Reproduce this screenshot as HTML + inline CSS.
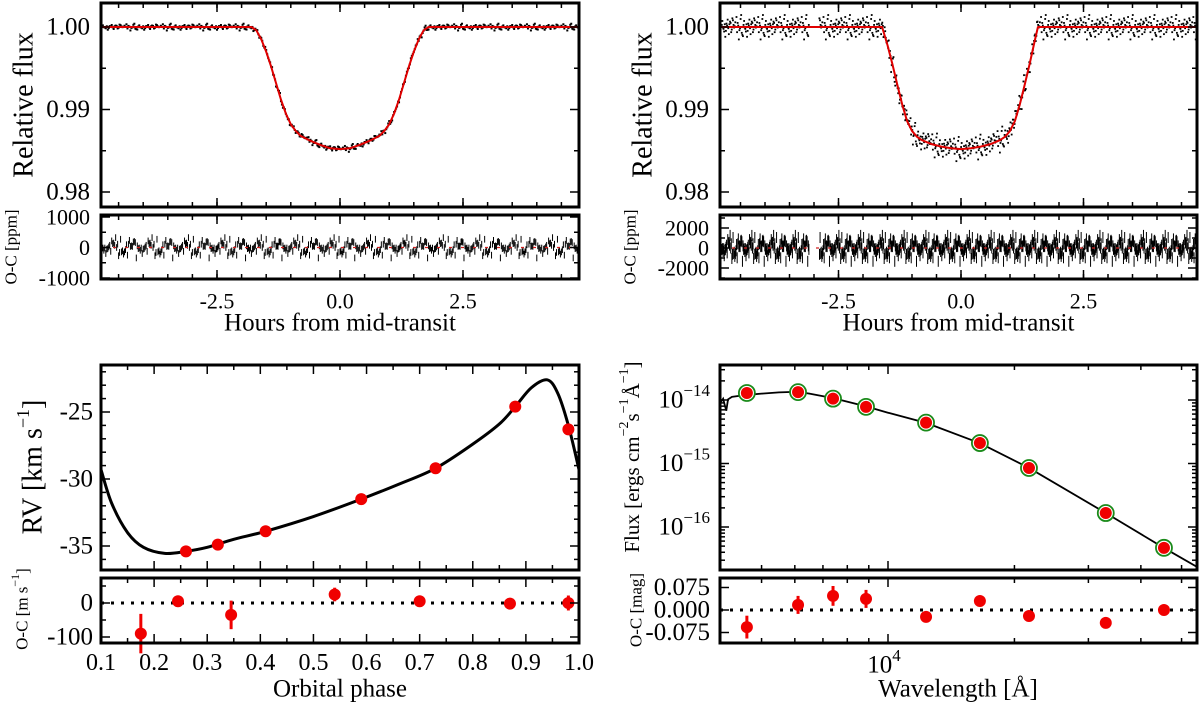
<!DOCTYPE html>
<html>
<head>
<meta charset="utf-8">
<style>
html,body{margin:0;padding:0;background:#fff;}
svg{display:block;font-family:"Liberation Serif","DejaVu Serif",serif;}
svg text{font-family:"Liberation Serif","DejaVu Serif",serif;fill:#000;}
</style>
</head>
<body>
<svg id="fig" width="1200" height="707" viewBox="0 0 1200 707" font-family="Liberation Serif, DejaVu Serif, serif" xmlns="http://www.w3.org/2000/svg"></svg>
<script>
// ---------------- DATA ----------------
// Panel 1 transit model (hours, relative flux)
const lc1ModelT = [-4.86,-1.8,-1.7,-1.6,-1.5,-1.4,-1.3,-1.2,-1.1,-1.0,-0.9,-0.8,-0.6,-0.4,-0.2,0,0.2,0.4,0.6,0.8,0.9,1.0,1.1,1.2,1.3,1.4,1.5,1.6,1.7,1.8,4.86];
const lc1ModelF = [1.0,1.0,0.9996,0.9985,0.9970,0.9952,0.9932,0.9912,0.9895,0.9882,0.9874,0.9868,0.9862,0.9857,0.9853,0.9852,0.9853,0.9857,0.9862,0.9868,0.9874,0.9882,0.9895,0.9912,0.9932,0.9952,0.9970,0.9985,0.9996,1.0,1.0];
// Panel 2 transit model
const lc2ModelT = [-4.9,-1.61,-1.5,-1.4,-1.3,-1.2,-1.1,-1.0,-0.9,-0.8,-0.6,-0.4,-0.2,0,0.2,0.4,0.6,0.8,0.9,1.0,1.1,1.2,1.3,1.4,1.5,1.57,4.82];
const lc2ModelF = [1.0,1.0,0.9978,0.9955,0.9930,0.9906,0.9886,0.9874,0.9867,0.9863,0.9858,0.9855,0.9853,0.9852,0.9853,0.9855,0.9858,0.9863,0.9867,0.9874,0.9886,0.9906,0.9930,0.9955,0.9982,1.0,1.0];
// Noise pattern (units of sigma)
const noisePattern = [0.3,-0.8,1.2,-0.2,0.6,-1.5,0.1,0.9,-0.4,1.8,-1.1,0.2,-0.6,0.7,-0.1,1.3,-0.9,0.4,-1.9,0.5,0.0,-0.3,1.0,-1.2,0.8,-0.5,0.2,1.5,-0.7,0.3,-1.4,0.6,-0.2,1.1,-0.8,0.4,-0.1];
const lc1Sigma = 0.00022, lc2Sigma = 0.0008;
const lc2GapStart = -3.1, lc2GapEnd = -2.9;

// Panel 3 RV
const rvPhase = [0.26,0.32,0.41,0.59,0.73,0.88,0.98];
const rvValue = [-35.4,-34.9,-33.9,-31.5,-29.2,-24.6,-26.3];
const rvModelPhase = [0.1,0.12,0.15,0.18,0.22,0.26,0.3,0.35,0.41,0.5,0.59,0.66,0.73,0.8,0.85,0.88,0.91,0.94,0.96,0.98,1.0];
const rvModelValue = [-29.3,-31.8,-34.0,-35.1,-35.55,-35.4,-35.1,-34.5,-33.9,-32.8,-31.5,-30.4,-29.2,-27.4,-25.9,-24.6,-23.2,-22.6,-23.6,-26.0,-29.3];
const rvResPhase = [0.175,0.245,0.345,0.54,0.70,0.87,0.98];
const rvResValue = [-90,5,-35,25,5,-2,0];
const rvResErr = [58,8,42,20,6,7,22];

// Panel 4 SED
const sedWave = [4613,6107,7398,8865,12320,16550,21660,33000,45400];
const sedFlux = [1.29e-14,1.33e-14,1.05e-14,7.8e-15,4.4e-15,2.1e-15,8.5e-16,1.66e-16,4.7e-17];
const sedModelWave = [3981,4050,4120,4160,4250,4600,5000,5500,6100,6500,7400,8865,10000,12320,16550,21660,33000,45400,54450];
const sedModelLogF = [-14.05,-13.98,-14.17,-13.99,-13.95,-13.92,-13.9,-13.88,-13.87,-13.9,-13.97,-14.1,-14.2,-14.36,-14.68,-15.07,-15.78,-16.33,-16.63];
const sedResValue = [-0.057,0.017,0.047,0.037,-0.023,0.030,-0.020,-0.043,0.0];
const sedResErr = [0.038,0.03,0.033,0.03,0.01,0.01,0.012,0.012,0.012];

// ---------------- HELPERS ----------------
const NS = "http://www.w3.org/2000/svg";
const svg = document.getElementById('fig');
const FONT = '"Liberation Serif", "DejaVu Serif", serif';
function mk(tag, attrs, parent){
  const e = document.createElementNS(NS, tag);
  for (const k in attrs) e.setAttribute(k, attrs[k]);
  if (tag==='text') e.style.fontFamily = FONT;
  (parent||svg).appendChild(e);
  return e;
}
function group(name){
  const g = mk('g', {});
  
  
  return g;
}
function smoothPath(pts){
  let d = 'M' + pts[0][0].toFixed(2) + ',' + pts[0][1].toFixed(2);
  for (let i=0;i<pts.length-1;i++){
    const p0 = pts[Math.max(0,i-1)], p1 = pts[i], p2 = pts[i+1], p3 = pts[Math.min(pts.length-1,i+2)];
    const c1x = p1[0]+(p2[0]-p0[0])/6, c1y = p1[1]+(p2[1]-p0[1])/6;
    const c2x = p2[0]-(p3[0]-p1[0])/6, c2y = p2[1]-(p3[1]-p1[1])/6;
    d += ' C'+c1x.toFixed(2)+','+c1y.toFixed(2)+' '+c2x.toFixed(2)+','+c2y.toFixed(2)+' '+p2[0].toFixed(2)+','+p2[1].toFixed(2);
  }
  return d;
}
function linePath(pts){ return 'M'+pts.map(p=>p[0].toFixed(2)+','+p[1].toFixed(2)).join(' L'); }
function linInterp(xs, ys, x){
  if (x<=xs[0]) return ys[0];
  for (let i=0;i<xs.length-1;i++){
    if (x<=xs[i+1]){ const f=(x-xs[i])/(xs[i+1]-xs[i]); return ys[i]+f*(ys[i+1]-ys[i]); }
  }
  return ys[ys.length-1];
}
function frame(g, x0,y0,x1,y1){
  const r = mk('rect',{x:x0,y:y0,width:x1-x0,height:y1-y0,fill:'none',stroke:'#000','stroke-width':3},g);
  
  
}
function xTicks(g, xs, y0, y1, len){
  xs.forEach(x=>{
    mk('line',{x1:x,y1:y1,x2:x,y2:y1-len,stroke:'#000','stroke-width':1.5},g);
    mk('line',{x1:x,y1:y0,x2:x,y2:y0+len,stroke:'#000','stroke-width':1.5},g);
  });
}
function yTicks(g, ys, x0, x1, len){
  ys.forEach(y=>{
    mk('line',{x1:x0,y1:y,x2:x0+len,y2:y,stroke:'#000','stroke-width':1.5},g);
    mk('line',{x1:x1,y1:y,x2:x1-len,y2:y,stroke:'#000','stroke-width':1.5},g);
  });
}
function label(g, x, y, txt, size, anchor, name){
  const t = mk('text',{x:x,y:y,'font-size':size,'text-anchor':anchor||'middle','dominant-baseline':'central'},g);
  t.textContent = txt;
  
  
  return t;
}
function range(a,b,s){const r=[];for(let v=a;v<=b+1e-9;v+=s)r.push(+v.toFixed(6));return r;}

// ---------------- TRANSIT PANELS ----------------
function transitPanel(opt){
  const g = group(opt.name);
  const X = t => opt.xc + opt.xs*t;
  const Y = f => 27 + (1.0-f)*8250;
  const R = r => opt.r0 - r*opt.rs;
  const gd = mk('g',{},g);
  
  
  const gr = mk('g',{},g);
  
  
  let i=0;
  for (let t=opt.tmin; t<=opt.tmax; t+=opt.step, i++){
    if (opt.gap && t>opt.gap[0] && t<opt.gap[1]) continue;
    const n = noisePattern[(i*7)%noisePattern.length];
    const n2 = noisePattern[(i*11+3)%noisePattern.length];
    const f = linInterp(opt.mt, opt.mf, t) + n*opt.sigma;
    mk('rect',{x:(X(t)-1).toFixed(2),y:(Y(f)-1).toFixed(2),width:opt.dot,height:opt.dot,fill:'#000'},gd);
    const res = n2*opt.resSigma;
    mk('line',{x1:X(t).toFixed(2),y1:R(res-opt.err).toFixed(2),x2:X(t).toFixed(2),y2:R(res+opt.err).toFixed(2),stroke:'#000','stroke-width':1},gr);
  }
  const zl = mk('line',{x1:opt.x0,y1:R(0),x2:opt.x1,y2:R(0),stroke:'#d02020','stroke-width':1.2,'stroke-dasharray':'3,9'},g);
  
  
  const pts = opt.mt.map((t,k)=>[X(t),Y(opt.mf[k])]);
  const m = mk('path',{d:linePath(pts),fill:'none',stroke:'#e00000','stroke-width':2,'stroke-linejoin':'round'},g);
  
  
  frame(g,opt.x0,3,opt.x1,207);
  frame(g,opt.x0,215,opt.x1,279);
  const majX = [-2.5,0,2.5].map(X), minX = range(-4.5,4.5,0.5).map(X).filter(x=>x>opt.x0+2&&x<opt.x1-2);
  xTicks(g, majX, 3, 207, 9); xTicks(g, minX, 3, 207, 5);
  xTicks(g, majX, 215, 279, 9); xTicks(g, minX, 215, 279, 5);
  yTicks(g, [1.0,0.99,0.98].map(Y), opt.x0, opt.x1, 9);
  yTicks(g, [0.995,0.985].map(Y), opt.x0, opt.x1, 5);
  yTicks(g, opt.rMaj.map(R), opt.x0, opt.x1, 9);
  yTicks(g, opt.rMin.map(R), opt.x0, opt.x1, 5);
  [['1.00',1.0],['0.99',0.99],['0.98',0.98]].forEach(a=>label(g,opt.x0-11,Y(a[1]),a[0],25,'end','y-tick-label'));
  opt.rLab.forEach(a=>label(g,opt.x0-11,R(a[1]),a[0],22,'end','residual-tick-label'));
  [['-2.5',-2.5],['0.0',0],['2.5',2.5]].forEach(a=>label(g,X(a[1]),301,a[0],22,'middle','x-tick-label'));
  label(g,(opt.x0+opt.x1)/2,323,'Hours from mid-transit',25,'middle','x-axis-title');
  const yt = label(g,0,0,'Relative flux',28,'middle','y-axis-title');
  yt.setAttribute('transform','translate('+(opt.x0-77)+',105) rotate(-90)');
  const rt = label(g,0,0,'O-C [ppm]',17,'middle','residual-axis-title');
  rt.setAttribute('transform','translate('+(opt.x0-90)+',247) rotate(-90)');
}
transitPanel({name:'transit-panel-1',x0:101,x1:579,xc:340,xs:49.2,tmin:-4.84,tmax:4.84,step:0.02,dot:2,
  mt:lc1ModelT,mf:lc1ModelF,sigma:lc1Sigma,resSigma:180,err:110,r0:247.5,rs:0.0305,
  rMaj:[1000,0,-1000],rMin:[500,-500],rLab:[['1000',1000],['0',0],['-1000',-1000]]});
transitPanel({name:'transit-panel-2',x0:720,x1:1197,xc:961,xs:49,tmin:-4.88,tmax:4.8,step:0.012,dot:1.8,
  mt:lc2ModelT,mf:lc2ModelF,sigma:lc2Sigma,resSigma:700,err:550,r0:248,rs:0.01,gap:[lc2GapStart,lc2GapEnd],
  rMaj:[2000,0,-2000],rMin:[3000,1000,-1000,-3000],rLab:[['2000',2000],['0',0],['-2000',-2000]]});

// ---------------- RV PANEL ----------------
(function(){
  const g = group('rv-panel');
  const x0=101,x1=579;
  const X = p => 101 + (p-0.1)*531.1;
  const Y = v => 412 - (v+25)*13.4;
  const R = r => 603 - r*0.34;
  const cp = mk('clipPath',{id:'rvclip'},g);
  mk('rect',{x:x0,y:365,width:x1-x0,height:205},cp);
  const pts = rvModelPhase.map((p,k)=>[X(p),Y(rvModelValue[k])]);
  const m = mk('path',{d:smoothPath(pts),fill:'none',stroke:'#000','stroke-width':3,'clip-path':'url(#rvclip)'},g);
  
  
  rvPhase.forEach((p,k)=>{
    const c = mk('circle',{cx:X(p),cy:Y(rvValue[k]),r:6,fill:'#f00000'},g);
    
    
  });
  const zl = mk('line',{x1:x0,y1:R(0),x2:x1,y2:R(0),stroke:'#000','stroke-width':3,'stroke-dasharray':'3,7'},g);
  
  
  rvResPhase.forEach((p,k)=>{
    const e = mk('line',{x1:X(p),x2:X(p),y1:R(rvResValue[k]-rvResErr[k]),y2:R(rvResValue[k]+rvResErr[k]),stroke:'#f00000','stroke-width':3},g);
    
    
    const c = mk('circle',{cx:X(p),cy:R(rvResValue[k]),r:6,fill:'#f00000'},g);
    
    
  });
  frame(g,x0,365,x1,570); frame(g,x0,578,x1,643);
  const mx = range(0.1,1.0,0.1).map(X);
  const nx = range(0.15,0.95,0.1).map(X);
  xTicks(g,mx,365,570,9); xTicks(g,nx,365,570,5);
  xTicks(g,mx,578,643,9); xTicks(g,nx,578,643,5);
  yTicks(g,[-25,-30,-35].map(Y),x0,x1,9);
  yTicks(g,[-22,-23,-24,-26,-27,-28,-29,-31,-32,-33,-34,-36].map(Y),x0,x1,5);
  yTicks(g,[0,-100].map(R),x0,x1,9);
  yTicks(g,[50,-50].map(R),x0,x1,5);
  [-25,-30,-35].forEach(v=>label(g,x0-8,Y(v),String(v),25,'end','y-tick-label'));
  [['0',0],['-100',-100]].forEach(a=>label(g,x0-8,R(a[1]),a[0],25,'end','residual-tick-label'));
  range(0.1,1.0,0.1).forEach(p=>label(g,X(p),663,p.toFixed(1),24,'middle','x-tick-label'));
  label(g,340,689,'Orbital phase',25,'middle','x-axis-title');
  const yt = mk('text',{'font-size':28,'text-anchor':'middle','dominant-baseline':'central',transform:'translate(33,467) rotate(-90)'},g);
  
  
  yt.innerHTML = 'RV [km s<tspan font-size="18" dy="-10">−1</tspan><tspan dy="10">]</tspan>';
  const rt = mk('text',{'font-size':17,'text-anchor':'middle','dominant-baseline':'central',transform:'translate(22,609) rotate(-90)'},g);
  
  
  rt.innerHTML = 'O-C [m s<tspan font-size="12" dy="-7">−1</tspan><tspan dy="7">]</tspan>';
})();

// ---------------- SED PANEL ----------------
(function(){
  const g = group('sed-panel');
  const x0=720,x1=1197;
  const X = w => 888 + 420*(Math.log10(w)-4);
  const Y = f => 400 - 63.5*(Math.log10(f)+14);
  const YL = lf => 400 - 63.5*(lf+14);
  const R = m => 610 - m*300;
  const cp = mk('clipPath',{id:'sedclip'},g);
  mk('rect',{x:x0,y:365,width:x1-x0,height:205},cp);
  const pts = sedModelWave.map((w,k)=>[X(w),YL(sedModelLogF[k])]);
  const m = mk('path',{d:linePath(pts),fill:'none',stroke:'#000','stroke-width':1.8,'clip-path':'url(#sedclip)'},g);
  
  
  sedWave.forEach((w,k)=>{
    const o = mk('circle',{cx:X(w),cy:Y(sedFlux[k]),r:8,fill:'#fff',stroke:'#1a8a1a','stroke-width':1.8},g);
    
    
    const c = mk('circle',{cx:X(w),cy:Y(sedFlux[k]),r:6,fill:'#f00000'},g);
    
    
  });
  const zl = mk('line',{x1:x0,y1:R(0),x2:x1,y2:R(0),stroke:'#000','stroke-width':3,'stroke-dasharray':'3,7'},g);
  
  
  sedWave.forEach((w,k)=>{
    const e = mk('line',{x1:X(w),x2:X(w),y1:R(sedResValue[k]-sedResErr[k]),y2:R(sedResValue[k]+sedResErr[k]),stroke:'#f00000','stroke-width':3},g);
    
    
    const c = mk('circle',{cx:X(w),cy:R(sedResValue[k]),r:6,fill:'#f00000'},g);
    
    
  });
  frame(g,x0,365,x1,570); frame(g,x0,578,x1,643);
  const mx=[X(10000)];
  const nx=[5000,6000,7000,8000,9000,20000,30000,40000,50000].map(X);
  xTicks(g,mx,365,570,9); xTicks(g,nx,365,570,5);
  xTicks(g,mx,578,643,9); xTicks(g,nx,578,643,5);
  yTicks(g,[-14,-15,-16].map(YL),x0,x1,9);
  const minY=[];
  [-17,-16,-15,-14].forEach(dc=>{for(let k=2;k<=9;k++){const y=YL(dc+Math.log10(k)); if(y>367&&y<568) minY.push(y);}});
  yTicks(g,minY,x0,x1,5);
  yTicks(g,[0.075,0,-0.075].map(R),x0,x1,9);
  [['−14',-14],['−15',-15],['−16',-16]].forEach(a=>{
    const t = mk('text',{x:x0-10,y:YL(a[1]),'font-size':25,'text-anchor':'end','dominant-baseline':'central'},g);
    
    
    t.innerHTML = '10<tspan font-size="17" dy="-10">'+a[0]+'</tspan>';
  });
  [['0.075',0.075],['0.000',0],['-0.075',-0.075]].forEach(a=>label(g,x0-10,R(a[1]),a[0],25,'end','residual-tick-label'));
  const xt = mk('text',{x:X(10000)-4,y:665,'font-size':25,'text-anchor':'middle','dominant-baseline':'central'},g);
  
  
  xt.innerHTML = '10<tspan font-size="17" dy="-10">4</tspan>';
  label(g,958,689,'Wavelength [Å]',25,'middle','x-axis-title');
  const yt = mk('text',{'font-size':21,'text-anchor':'middle','dominant-baseline':'central',transform:'translate(632,457) rotate(-90)'},g);
  
  
  yt.innerHTML = 'Flux [ergs cm<tspan font-size="14" dy="-8">−2</tspan><tspan dy="8">s</tspan><tspan font-size="14" dy="-8">−1</tspan><tspan dy="8">Å</tspan><tspan font-size="14" dy="-8">−1</tspan><tspan dy="8">]</tspan>';
  const rt = mk('text',{'font-size':17,'text-anchor':'middle','dominant-baseline':'central',transform:'translate(636,610) rotate(-90)'},g);
  
  
  rt.textContent = 'O-C [mag]';
})();
</script>
</body>
</html>
